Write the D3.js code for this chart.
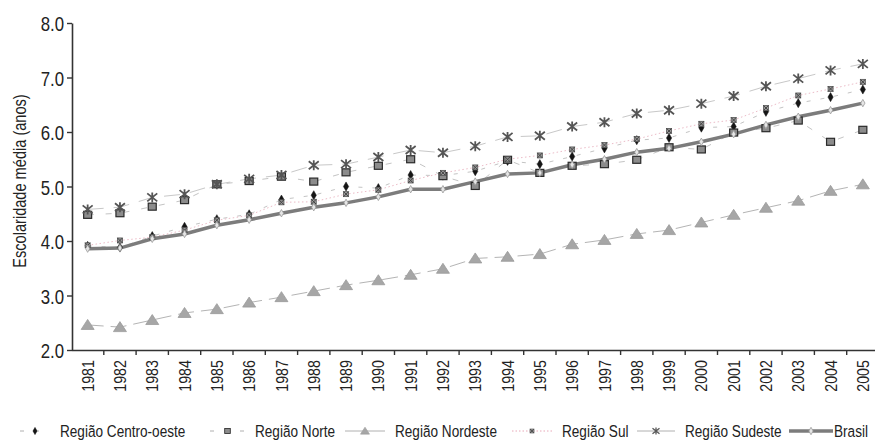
<!DOCTYPE html>
<html><head><meta charset="utf-8">
<script src="https://cdn.jsdelivr.net/npm/d3@7"></script>
<style>
html,body{margin:0;padding:0;background:#fff;}
svg{display:block;}
text{font-family:"Liberation Sans Narrow","Liberation Sans",Arial,sans-serif;fill:#222;}
</style></head>
<body><svg id="c" width="875" height="441"></svg>
<script>
const years = [1981,1982,1983,1984,1985,1986,1987,1988,1989,1990,1991,1992,1993,1994,1995,1996,1997,1998,1999,2000,2001,2002,2003,2004,2005];
const centroOeste = [3.91,3.88,4.09,4.26,4.40,4.49,4.76,4.84,5.00,4.97,5.21,5.20,5.28,5.47,5.41,5.55,5.70,5.85,5.89,6.08,6.10,6.37,6.53,6.64,6.78];
const norte = [4.48,4.51,4.63,4.75,5.04,5.10,5.18,5.09,5.26,5.38,5.50,5.19,5.01,5.49,5.25,5.38,5.41,5.49,5.72,5.68,5.99,6.07,6.21,5.82,6.04];
const nordeste = [2.46,2.42,2.55,2.68,2.75,2.87,2.97,3.08,3.19,3.28,3.38,3.49,3.68,3.71,3.76,3.94,4.02,4.13,4.20,4.34,4.48,4.61,4.74,4.92,5.04];
const sul = [3.92,4.01,4.07,4.20,4.38,4.47,4.71,4.72,4.86,4.94,5.11,5.25,5.35,5.50,5.57,5.68,5.76,5.87,6.02,6.15,6.22,6.44,6.67,6.79,6.92];
const sudeste = [4.58,4.62,4.80,4.86,5.04,5.14,5.21,5.39,5.41,5.54,5.67,5.62,5.74,5.91,5.93,6.10,6.18,6.34,6.40,6.52,6.66,6.84,6.98,7.13,7.25];
const brasil = [3.86,3.87,4.04,4.13,4.29,4.39,4.51,4.62,4.70,4.81,4.95,4.95,5.09,5.23,5.25,5.40,5.50,5.63,5.70,5.82,5.96,6.13,6.28,6.40,6.53];
const yTicks = [2,3,4,5,6,7,8];
const yLabel = "Escolaridade média (anos)";
const seriesNames = ["Região Centro-oeste","Região Norte","Região Nordeste","Região Sul","Região Sudeste","Brasil"];

const svg = d3.select("#c");
const x = d3.scaleBand().domain(years).range([71.5, 71.5 + 25*32.3]).padding(0);
const y = d3.scaleLinear().domain([2,8]).range([350,23]);
const cx = d => x(d) + x.bandwidth()/2;

function condense(sel, f){
  sel.each(function(){
    const L = this.getComputedTextLength();
    d3.select(this).attr("textLength", L*f).attr("lengthAdjust","spacingAndGlyphs");
  });
}

function drawMarker(parent, type, px, py, k){
  const g = parent.append("g").attr("transform",`translate(${px},${py}) scale(${k||1})`);
  if(type==="diamond"){
    g.append("path").attr("d", d3.symbol(d3.symbolDiamond, 24)())
      .attr("fill","#151515").attr("stroke","#151515").attr("stroke-width",0.5);
  } else if(type==="square"){
    g.append("rect").attr("x",-4).attr("y",-3.5).attr("width",8).attr("height",7)
      .attr("fill","#8c8c8c").attr("stroke","#2a2a2a").attr("stroke-width",1.2);
  } else if(type==="triangle"){
    g.append("path").attr("d","M0,-5.5L6.5,4.5L-6.5,4.5Z")
      .attr("fill","#a6a6a6").attr("stroke","#9a9a9a").attr("stroke-width",0.8);
  } else if(type==="sul"){
    g.append("rect").attr("x",-2.5).attr("y",-2.5).attr("width",5).attr("height",5)
      .attr("fill","#9a9a9a").attr("stroke","#555").attr("stroke-width",0.8);
    g.append("path").attr("d","M-2.5,-2.5L2.5,2.5M2.5,-2.5L-2.5,2.5")
      .attr("stroke","#444").attr("stroke-width",1);
  } else if(type==="asterisk"){
    g.append("path").attr("d","M-5,-4L5,4M5,-4L-5,4M0,-5L0,5")
      .attr("stroke","#555").attr("stroke-width",1.8).attr("fill","none");
  } else if(type==="brasil"){
    g.append("path").attr("d", d3.symbol(d3.symbolDiamond, 16)())
      .attr("fill","#e6e6e6").attr("stroke","#9a9a9a").attr("stroke-width",0.8);
  }
}

const series = [
  {name:seriesNames[0], vals:centroOeste, marker:"diamond", stroke:"#c4c4c4", width:1, dash:"4,10"},
  {name:seriesNames[1], vals:norte, marker:"square", stroke:"#c4c4c4", width:1, dash:"6,12"},
  {name:seriesNames[2], vals:nordeste, marker:"triangle", stroke:"#b4b4b4", width:1, dash:"16,7"},
  {name:seriesNames[3], vals:sul, marker:"sul", stroke:"#ecbcc8", width:1, dash:"1.5,2.5"},
  {name:seriesNames[4], vals:sudeste, marker:"asterisk", stroke:"#c8c8c8", width:1, dash:"16,10"},
  {name:seriesNames[5], vals:brasil, marker:"brasil", stroke:"#7c7c7c", width:3.5, dash:null}
];

// axes
const yAxis = svg.append("g").attr("transform","translate(72,0)")
  .call(d3.axisLeft(y).tickValues(yTicks).tickFormat(d3.format(".1f")).tickSize(5).tickSizeOuter(0));
yAxis.select(".domain").attr("stroke","#333").attr("stroke-width",1.6);
yAxis.selectAll(".tick line").attr("stroke","#333").attr("stroke-width",1.4);
yAxis.selectAll(".tick text").attr("font-size",21).attr("x",-8).attr("dy","0.36em").attr("fill","#222");
condense(yAxis.selectAll(".tick text"), 0.8);

const xAxis = svg.append("g").attr("transform","translate(0,350)")
  .call(d3.axisBottom(x).tickSize(0).tickSizeOuter(0));
xAxis.select(".domain").attr("stroke","#333").attr("stroke-width",1.6);
xAxis.selectAll(".tick text").attr("font-size",17).attr("transform","rotate(-90)")
  .attr("text-anchor","end").attr("x",-10).attr("y",0).attr("dy","0.36em").attr("fill","#222");
condense(xAxis.selectAll(".tick text"), 0.84);
xAxis.selectAll("line.bt").data(years).enter().append("line").attr("class","bt")
  .attr("x1",d=> x(d) + x.bandwidth()).attr("x2",d=> x(d) + x.bandwidth())
  .attr("y1",0).attr("y2",5).attr("stroke","#333").attr("stroke-width",1.4);

const yl = svg.append("text").attr("transform","translate(26,181) rotate(-90)").attr("text-anchor","middle")
  .attr("font-size",18).text(yLabel);
condense(yl, 0.81);

// lines
const line = d3.line().x((d,i)=>cx(years[i])).y(d=>y(d));
const gl = svg.append("g");
series.forEach(s=>{
  gl.append("path").attr("d",line(s.vals)).attr("fill","none").attr("stroke",s.stroke)
    .attr("stroke-width",s.width).attr("stroke-dasharray",s.dash);
});
const gm = svg.append("g");
series.forEach(s=>{
  s.vals.forEach((v,i)=>drawMarker(gm, s.marker, cx(years[i]), y(v), 1));
});

// legend
const lg = svg.append("g");
const legendX = [20, 210, 345, 512, 637, 789];
const legendW = [30, 35, 40, 40, 38, 44];
const legendK = [0.8, 0.7, 0.7, 0.8, 0.7, 1];
const ly = 431;
series.forEach((s,i)=>{
  const x0 = legendX[i], w = legendW[i];
  lg.append("line").attr("x1",x0).attr("x2",x0+w).attr("y1",ly).attr("y2",ly)
    .attr("stroke", s.marker==="sul" ? "#e8a8b8" : (s.marker==="brasil" ? "#7c7c7c" : "#b0b0b0"))
    .attr("stroke-width", s.width)
    .attr("stroke-dasharray", i<2 ? "4,11" : (s.marker==="sul" ? "1.5,2" : null));
  drawMarker(lg, s.marker, x0+w/2, ly, legendK[i]);
  lg.append("g").attr("transform",`translate(${x0+w+(i===5?1:10)},${ly}) scale(0.8,1)`)
    .append("text").attr("x",0).attr("y",0).attr("dy","0.36em")
    .attr("font-size",17).text(s.name);
});
</script></body></html>
